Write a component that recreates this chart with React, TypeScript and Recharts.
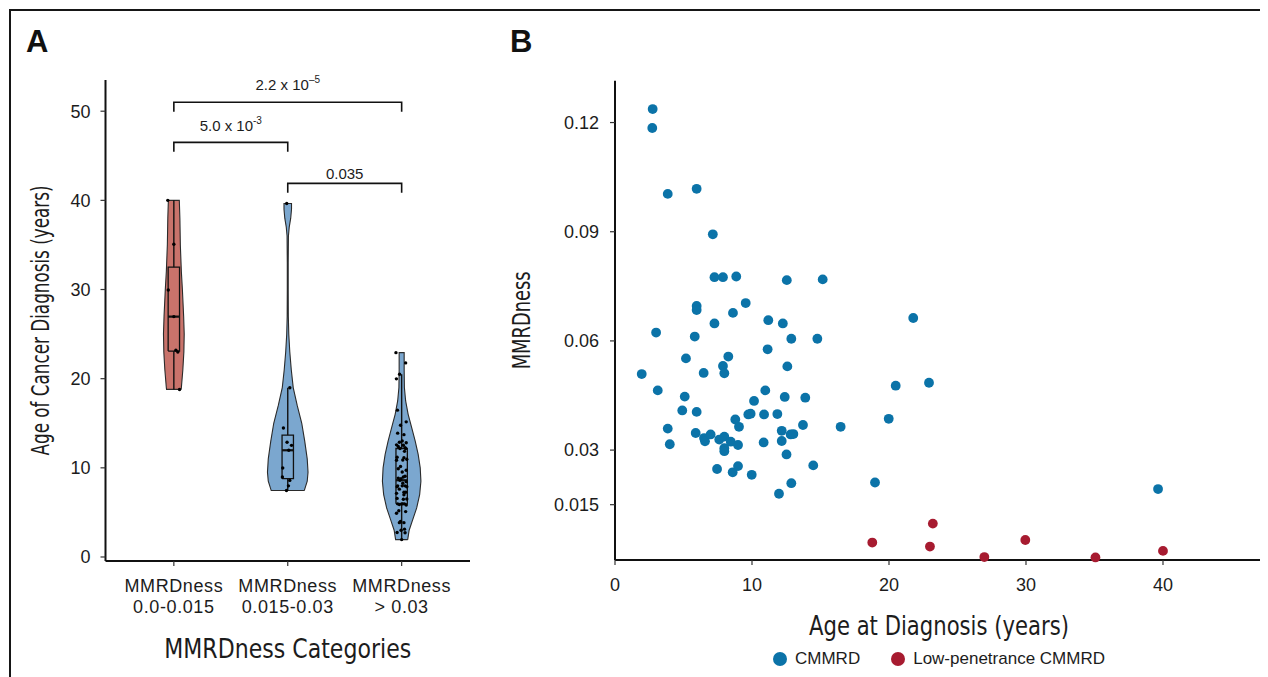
import React from 'react';
import { ComposedChart, ScatterChart, Scatter, XAxis, YAxis, Legend } from 'recharts';

const FONT = '"Liberation Sans", Arial, sans-serif';
const NARROW = '"Liberation Sans Narrow", "DejaVu Sans Condensed", "Liberation Sans", sans-serif';
const INK = '#1c1c1c';
const BLUE = '#0b73a8';
const RED = '#a71b30';
const VIOLIN_RED = '#c9736b';
const VIOLIN_BLUE = '#7ba7cf';

// panel B data (age in years, MMRDness)
const cmmrdAge = [2.75, 2.72, 3.85, 5.96, 7.14, 7.26, 7.88, 8.85, 12.54, 15.16,
  5.96, 5.96, 9.54, 8.61, 7.26, 11.19, 12.25, 21.77, 3.0, 5.82,
  12.87, 14.77, 11.14, 5.18, 8.27, 7.88, 7.98, 12.58, 6.47, 1.95,
  3.12, 5.09, 10.97, 12.39, 13.89, 10.15, 4.91, 5.96, 9.73, 9.9,
  10.88, 11.85, 8.78, 9.05, 3.85, 4.0, 5.89, 6.5, 6.57, 6.98,
  7.61, 7.98, 7.98, 7.98, 8.45, 8.98, 12.17, 12.82, 13.02, 12.17,
  10.85, 13.72, 16.47, 12.52, 7.45, 8.59, 8.98, 9.98, 14.47, 12.87,
  11.97, 18.98, 19.98, 20.49, 22.92, 39.64];
const cmmrdScore = [0.1237, 0.1185, 0.1004, 0.1018, 0.0893, 0.0775, 0.0775, 0.0777, 0.0767, 0.0769,
  0.0696, 0.0685, 0.0704, 0.0677, 0.0648, 0.0657, 0.0648, 0.0663, 0.0623, 0.0612,
  0.0606, 0.0606, 0.0577, 0.0552, 0.0557, 0.0531, 0.0511, 0.053, 0.0512, 0.0509,
  0.0464, 0.0447, 0.0464, 0.0446, 0.0444, 0.0435, 0.0409, 0.0405, 0.0398, 0.04,
  0.0398, 0.0399, 0.0384, 0.0364, 0.0359, 0.0316, 0.0347, 0.0333, 0.0324, 0.0343,
  0.0329, 0.0337, 0.0305, 0.0297, 0.0323, 0.0314, 0.0353, 0.0343, 0.0344, 0.0325,
  0.0321, 0.0369, 0.0364, 0.0288, 0.0248, 0.0239, 0.0256, 0.0232, 0.0258, 0.0209,
  0.018, 0.0211, 0.0386, 0.0477, 0.0485, 0.0193];
const lowPenAge = [18.78, 22.99, 23.2, 26.96, 29.95, 35.07, 40.0];
const lowPenScore = [0.0046, 0.0035, 0.0098, 0.0006, 0.0053, 0.0005, 0.0023];

// panel A: categories and horizontal jitter of the dots (category units)
const categoryLine1 = ['MMRDness', 'MMRDness', 'MMRDness'];
const categoryLine2 = ['0.0-0.015', '0.015-0.03', '> 0.03'];
const categoryBreaks = [0.015, 0.03];
const jitterLow = [0.05, 0.035, 0.018, 0, -0.049, 0, -0.053];
const jitterMid = [0.006, 0.033, -0.011, 0.018, -0.047, -0.044, -0.038, -0.006, 0.009, 0.018, -0.009];
const jitterHigh = [-0.04, 0.03, -0.02, 0.01, -0.045, 0.02, 0.045, -0.03, 0.015, 0.04,
  -0.035, 0.025, 0.005, -0.015, 0.035, -0.04, 0.03, 0.035, -0.005, 0.04,
  -0.02, -0.01, 0.02, -0.025, 0.01, -0.04, 0.03, -0.045, 0.015, 0.0,
  0.025, 0.035, 0.045, -0.03, -0.035, -0.01, -0.045, 0.0, 0.04, -0.03,
  0.01, 0.025, -0.005, 0.03, 0.02, -0.01, -0.02, 0.045, -0.04, 0.02,
  -0.02, 0.005, -0.035, 0.04, 0.015, -0.015, 0.04, 0.005, 0.035, -0.045,
  0.02, -0.037, -0.046, -0.018, -0.05];

// violin outlines: age levels and half widths (category units)
const violinLevels1 = [18.8, 19, 21, 23, 25, 27, 30, 32, 35, 38, 40];
const violinWidths1 = [0.064, 0.066, 0.079, 0.088, 0.091, 0.086, 0.075, 0.066, 0.057, 0.053, 0.048];
const violinLevels2 = [7.45, 8.5, 9.5, 11, 13, 15, 17, 19, 21, 23, 25, 27, 30, 33, 36, 37, 38, 39, 39.64];
const violinWidths2 = [0.145, 0.171, 0.178, 0.171, 0.149, 0.123, 0.083, 0.048, 0.031, 0.018, 0.009, 0.005, 0.004, 0.004, 0.006, 0.013, 0.026, 0.033, 0.033];
const violinLevels3 = [1.95, 3, 4, 5.5, 7, 8.5, 10, 11.5, 13, 14.5, 16, 17.5, 19, 21, 22.92];
const violinWidths3 = [0.053, 0.066, 0.092, 0.132, 0.158, 0.169, 0.163, 0.145, 0.119, 0.088, 0.057, 0.035, 0.024, 0.022, 0.022];

// significance brackets
const bracketFrom = [1, 1, 2];
const bracketTo = [3, 2, 3];
const bracketTop = [51.0, 46.5, 41.9];
const bracketTextY = [53.0, 48.4, 43.0];
const bracketText = ['2.2 x 10', '5.0 x 10', '0.035'];
const bracketExp = ['\u20135', '-3', ''];

const yTicksA = [0, 10, 20, 30, 40, 50];
const xTicksB = [0, 10, 20, 30, 40];
const yTicksB = [0.015, 0.03, 0.06, 0.09, 0.12];

const BOX_HALF = 0.05;

const quantile = (sorted: number[], p: number) => {
  const pos = (sorted.length - 1) * p;
  const lo = Math.floor(pos);
  const hi = Math.ceil(pos);
  return sorted[lo] + (sorted[hi] - sorted[lo]) * (pos - lo);
};

const allAge = [...cmmrdAge, ...lowPenAge];
const allScore = [...cmmrdScore, ...lowPenScore];
const groupOf = (s: number) => (s < categoryBreaks[0] ? 1 : s < categoryBreaks[1] ? 2 : 3);
const jitters = [jitterLow, jitterMid, jitterHigh];

const groupAges = [1, 2, 3].map((g) => allAge.filter((_, i) => groupOf(allScore[i]) === g));
const dotsA = groupAges.flatMap((ages, gi) =>
  ages.map((a, k) => ({ x: gi + 1 + jitters[gi][k], y: a }))
);

const boxStats = groupAges.map((ages) => {
  const s = [...ages].sort((a, b) => a - b);
  const q1 = quantile(s, 0.25);
  const med = quantile(s, 0.5);
  const q3 = quantile(s, 0.75);
  const iqr = q3 - q1;
  const lo = s.find((v) => v >= q1 - 1.5 * iqr) as number;
  const hi = [...s].reverse().find((v) => v <= q3 + 1.5 * iqr) as number;
  return { q1, med, q3, lo, hi };
});

const violinOutline = (center: number, levels: number[], widths: number[]) => {
  const right = levels.map((l, i) => ({ x: center + widths[i], y: l }));
  const left = levels.map((l, i) => ({ x: center - widths[i], y: l })).reverse();
  return [...right, ...left, right[0]];
};
const violins = [
  { data: violinOutline(1, violinLevels1, violinWidths1), fill: VIOLIN_RED },
  { data: violinOutline(2, violinLevels2, violinWidths2), fill: VIOLIN_BLUE },
  { data: violinOutline(3, violinLevels3, violinWidths3), fill: VIOLIN_BLUE },
];

const cmmrdData = cmmrdAge.map((a, i) => ({ x: a, y: cmmrdScore[i] }));
const lowPenData = lowPenAge.map((a, i) => ({ x: a, y: lowPenScore[i] }));

const Empty = () => <g />;
const SmallDot = (p: any) => <circle cx={p.cx} cy={p.cy} r={1.7} fill="#000" />;
const BigDot = (p: any) => <circle cx={p.cx} cy={p.cy} r={4.9} fill={p.fill} />;

const PLabel = (p: any) => (
  <text x={p.cx} y={p.cy} dy="0.35em" textAnchor="middle" fontFamily={FONT} fontSize={15} fill={INK}>
    {p.payload.text}
    {p.payload.exp ? <tspan dy={-7} fontSize={10}>{p.payload.exp}</tspan> : null}
  </text>
);

const CategoryTick = (props: any) => {
  const { x, y, payload } = props;
  const i = payload.value - 1;
  return (
    <text x={x} y={y} textAnchor="middle" fill={INK} fontFamily={FONT} fontSize={18} letterSpacing={0.6}>
      <tspan x={x} dy={23.5}>{categoryLine1[i]}</tspan>
      <tspan x={x} dy={21}>{categoryLine2[i]}</tspan>
    </text>
  );
};

// condensed axis titles: squeeze to the measured length
const XTitle = (text: string, len: number, baseDy: number) => (props: any) => {
  const vb = props.viewBox;
  const cx = vb.x + vb.width / 2;
  const y = vb.y + vb.height + baseDy;
  return (
    <text x={cx} y={y} textAnchor="middle" fontFamily={NARROW} fontSize={27} fill={INK} textLength={len} lengthAdjust="spacingAndGlyphs">
      {text}
    </text>
  );
};
const YTitle = (text: string, len: number, cxOff: number, size: number) => (props: any) => {
  const vb = props.viewBox;
  const cx = vb.x + cxOff;
  const cy = vb.y + vb.height / 2;
  return (
    <text x={cx} y={cy} dy={size * 0.36} transform={`rotate(-90, ${cx}, ${cy})`} textAnchor="middle" fontFamily={NARROW} fontSize={size} fill={INK} textLength={len} lengthAdjust="spacingAndGlyphs">
      {text}
    </text>
  );
};

const LegendContent = (props: any) => (
  <div style={{ display: 'flex', justifyContent: 'center', alignItems: 'center', height: 20, fontFamily: FONT, fontSize: 17, color: INK }}>
    {(props.payload || []).map((e: any, i: number) => (
      <div key={i} style={{ display: 'flex', alignItems: 'center', marginRight: i === 0 ? 31 : 0 }}>
        <span style={{ width: 14, height: 14, borderRadius: 7, background: e.color, marginRight: 8, display: 'inline-block' }} />
        <span>{e.value}</span>
      </div>
    ))}
  </div>
);

const axisLine = { stroke: '#111', strokeWidth: 2 };
const tickLine = { stroke: '#333', strokeWidth: 1.2 };
const tickStyle = { fill: INK, fontSize: 18, fontFamily: FONT };

const ViolinPanel = () => (
  <ComposedChart width={480} height={669} margin={{ top: 72, right: 18, bottom: 86, left: 7.5 }}>
    <XAxis
      type="number"
      dataKey="x"
      domain={[0.4, 3.6]}
      ticks={[1, 2, 3]}
      axisLine={axisLine}
      tickLine={tickLine}
      tickSize={5}
      tick={CategoryTick}
      height={30}
      label={{ content: XTitle('MMRDness Categories', 247, 67) }}
    />
    <YAxis
      type="number"
      dataKey="y"
      domain={[-0.45, 53.5]}
      ticks={yTicksA}
      width={90}
      axisLine={axisLine}
      tickLine={tickLine}
      tickSize={5}
      tickMargin={10}
      tick={tickStyle}
      label={{ content: YTitle('Age of Cancer Diagnosis (years)', 270, 24.5, 25) }}
    />
    {violins.map((v, i) => (
      <Scatter key={`v${i}`} data={v.data} shape={Empty} line={{ fill: v.fill, stroke: '#2b2b2b', strokeWidth: 1.1 }} isAnimationActive={false} />
    ))}
    {boxStats.map((b, i) => (
      <Scatter key={`w${i}`} data={[{ x: i + 1, y: b.lo }, { x: i + 1, y: b.hi }]} shape={Empty} line={{ stroke: '#111', strokeWidth: 1.4, fill: 'none' }} isAnimationActive={false} />
    ))}
    {boxStats.map((b, i) => (
      <Scatter
        key={`b${i}`}
        data={[
          { x: i + 1 - BOX_HALF, y: b.q1 },
          { x: i + 1 + BOX_HALF, y: b.q1 },
          { x: i + 1 + BOX_HALF, y: b.q3 },
          { x: i + 1 - BOX_HALF, y: b.q3 },
          { x: i + 1 - BOX_HALF, y: b.q1 },
        ]}
        shape={Empty}
        line={{ fill: violins[i].fill, stroke: '#111', strokeWidth: 1.3 }}
        isAnimationActive={false}
      />
    ))}
    {boxStats.map((b, i) => (
      <Scatter key={`m${i}`} data={[{ x: i + 1 - BOX_HALF, y: b.med }, { x: i + 1 + BOX_HALF, y: b.med }]} shape={Empty} line={{ stroke: '#111', strokeWidth: 2.2, fill: 'none' }} isAnimationActive={false} />
    ))}
    <Scatter data={dotsA} shape={SmallDot} isAnimationActive={false} />
    {bracketFrom.map((f, i) => (
      <Scatter
        key={`k${i}`}
        data={[
          { x: f, y: bracketTop[i] - 1.05 },
          { x: f, y: bracketTop[i] },
          { x: bracketTo[i], y: bracketTop[i] },
          { x: bracketTo[i], y: bracketTop[i] - 1.05 },
        ]}
        shape={Empty}
        line={{ stroke: '#111', strokeWidth: 1.6, fill: 'none' }}
        isAnimationActive={false}
      />
    ))}
    <Scatter
      data={bracketFrom.map((f, i) => ({ x: (f + bracketTo[i]) / 2, y: bracketTextY[i], text: bracketText[i], exp: bracketExp[i] }))}
      shape={PLabel}
      isAnimationActive={false}
    />
  </ComposedChart>
);

const ScatterPanel = () => (
  <ScatterChart width={780} height={669} margin={{ top: 72.7, right: 5, bottom: 87, left: 17 }}>
    <XAxis
      type="number"
      dataKey="x"
      domain={[0, 47.3]}
      ticks={xTicksB}
      axisLine={axisLine}
      tickLine={tickLine}
      tickSize={5}
      tickMargin={13}
      tick={tickStyle}
      height={30}
      label={{ content: XTitle('Age at Diagnosis (years)', 260, 45) }}
    />
    <YAxis
      type="number"
      dataKey="y"
      domain={[-0.0002, 0.1315]}
      ticks={yTicksB}
      width={110}
      axisLine={axisLine}
      tickLine={tickLine}
      tickSize={5}
      tickMargin={11}
      tick={tickStyle}
      label={{ content: YTitle('MMRDness', 98, 16, 24) }}
    />
    <Legend
      layout="horizontal"
      verticalAlign="middle"
      align="center"
      content={LegendContent}
      wrapperStyle={{ top: 641, left: 127, width: 648 }}
    />
    <Scatter name="CMMRD" data={cmmrdData} fill={BLUE} shape={BigDot} isAnimationActive={false} />
    <Scatter name="Low-penetrance CMMRD" data={lowPenData} fill={RED} shape={BigDot} isAnimationActive={false} />
  </ScatterChart>
);

export default function App() {
  return (
    <div style={{ position: 'relative', width: 1260, height: 669, background: '#fff', overflow: 'hidden' }}>
      <div style={{ position: 'absolute', left: 1, top: 1, width: 1270, height: 680, borderTop: '2px solid #161616', borderLeft: '2px solid #161616' }} />
      <div style={{ position: 'absolute', left: 18, top: 18, fontFamily: FONT, fontWeight: 700, fontSize: 31, lineHeight: '31px', color: '#111' }}>A</div>
      <div style={{ position: 'absolute', left: 502, top: 18, fontFamily: FONT, fontWeight: 700, fontSize: 31, lineHeight: '31px', color: '#111' }}>B</div>
      <div style={{ position: 'absolute', left: 0, top: 0 }}>
        <ViolinPanel />
      </div>
      <div style={{ position: 'absolute', left: 480, top: 0 }}>
        <ScatterPanel />
      </div>
    </div>
  );
}
